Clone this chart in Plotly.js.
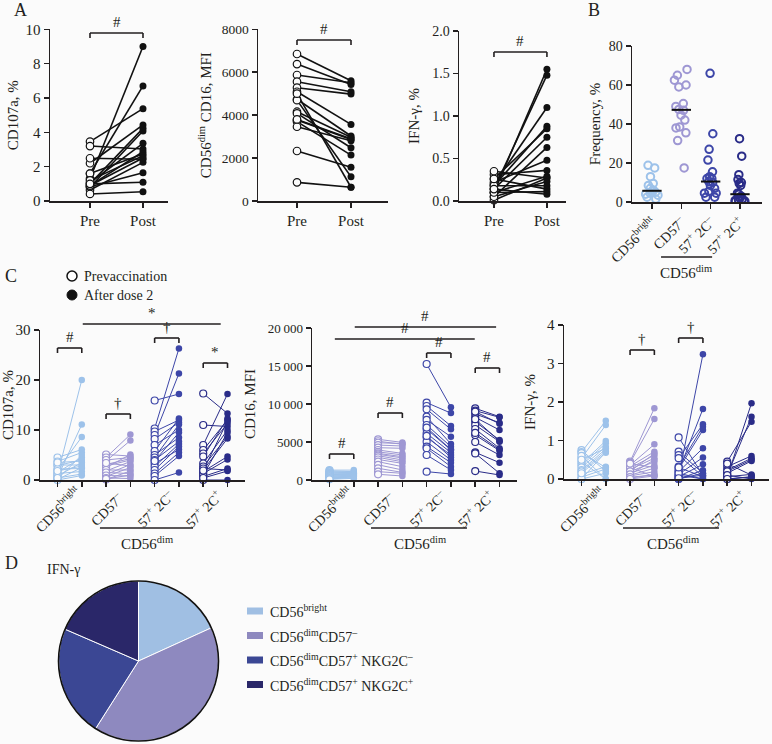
<!DOCTYPE html>
<html><head><meta charset="utf-8">
<script src="https://cdn.plot.ly/plotly-3.0.1.min.js"></script>
<style>html,body{margin:0;padding:0;background:#fbfbfb}</style>
</head><body><div id="chart" style="width:772px;height:744px"></div>
<script>
// ---------------- DATA ----------------
const prePostLabels = ['Pre', 'Post'];
// Panel A (paired, n=17)
const a1Pre  = [1.3, 1.6, 3.46, 2.2, 1.0, 0.8, 3.2, 2.49, 1.07, 0.9, 1.6, 1.2, 0.64, 0.83, 0.9, 0.41, 1.0];
const a1Post = [9.0, 6.7, 5.38, 4.43, 4.23, 4.08, 3.03, 2.43, 3.36, 2.87, 2.74, 2.64, 2.25, 1.65, 2.5, 0.54, 1.09];
const a2Pre  = [6850, 6380, 5870, 5560, 5280, 5090, 4740, 4160, 4080, 3770, 3700, 3460, 2330, 870, 4700, 3800, 5000];
const a2Post = [5600, 5430, 5510, 5090, 4980, 3570, 3030, 2970, 2480, 2870, 2140, 2810, 1570, 640, 1130, 2900, 640];
const a3Pre  = [0.1, 0.14, 0.2, 0.18, 0.26, 0.14, 0.05, 0.22, 0.31, 0.1, 0.01, 0.35, 0.05, 0.18, 0.26, 0.1, 0.14];
const a3Post = [1.55, 1.48, 1.1, 0.88, 0.85, 0.75, 0.63, 0.48, 0.36, 0.29, 0.27, 0.27, 0.23, 0.18, 0.14, 0.11, 0.08];

// Panel B
const subsetLabels = ['CD56<sup>bright</sup>', 'CD57<sup>–</sup>', '57<sup>+</sup> 2C<sup>–</sup>', '57<sup>+</sup> 2C<sup>+</sup>'];
const subsetColors = ['#9dc2ea', '#9e97d3', '#3d46a8', '#2a2c88'];
const freqBright  = [18.8, 17.5, 13, 9.5, 8.5, 7, 6, 5.5, 5, 4.5, 4, 3.5, 2.5, 1.5];
const freqCD57neg = [68, 65, 62.5, 60, 59, 50.5, 49, 47.5, 47, 44.5, 42, 38.5, 38, 35.5, 31.5, 17.5];
const freq2Cneg   = [66, 35, 27, 21.5, 15.5, 13, 12, 12, 10.5, 10, 8.5, 7, 5.5, 4.5, 4.5, 2.5, 2.5];
const freq2Cpos   = [32.5, 23.5, 14, 11.5, 10, 9.5, 8.5, 4.5, 4, 3, 2, 1.5, 1, 0.8, 0.5, 0.3, 0.2];

// Panel C: CD107a %
const cd107aPre = [
  [1.0, 0.5, 2.0, 4.5, 3.7, 0.2, 1.5, 2.9, 0.8, 3.0, 0.1, 2.2, 1.3, 0, 0.4, 3.5, 1.8],
  [5.1, 4.5, 3.8, 3.1, 2.5, 1.8, 1.1, 0.7, 0.1, 4.0, 2.8, 2.0, 1.5, 0.9, 0.4, 3.4, 0.2],
  [15.9, 10.3, 9.7, 9.0, 8.2, 7.0, 5.8, 5.0, 4.5, 4.0, 3.3, 2.7, 2.0, 1.3, 0.8, 0, 3.8],
  [17.3, 11.0, 7.0, 6.0, 5.3, 4.7, 3.3, 2.7, 2.0, 1.7, 1.3, 0.7, 0, 2.3, 1.0, 0.4, 1.9]
];
const cd107aPost = [
  [20, 11.1, 8.6, 6.1, 5.5, 5.0, 4.5, 4.0, 3.5, 3.0, 2.5, 2.3, 1.7, 0.9, 1.2, 3.8, 2.8],
  [4.8, 9.1, 7.9, 4.3, 5.1, 3.7, 3.1, 2.5, 1.8, 4.5, 4.0, 2.0, 1.3, 0.8, 0.3, 2.8, 1.0],
  [17.2, 26.3, 12.0, 21.3, 11.5, 10.0, 12.3, 8.5, 11.1, 7.7, 6.1, 7.2, 6.7, 5.5, 4.8, 1.5, 9.5],
  [13.3, 10.7, 17.2, 12.0, 11.3, 12.3, 10.0, 8.7, 8.3, 4.7, 4.1, 2.3, 0, 2.0, 9.5, 1.8, 11.8]
];
// Panel C: CD16 MFI
const cd16Pre = [
  [1300, 1200, 1100, 960, 900, 800, 700, 660, 600, 500, 450, 350, 300, 250, 200, 150, 90],
  [5350, 5100, 4900, 4600, 4250, 3950, 3700, 3500, 3380, 3200, 2980, 2700, 2410, 2000, 1540, 1100, 750],
  [15260, 10180, 9740, 9300, 8330, 7900, 7240, 6710, 6140, 5610, 5040, 4390, 4170, 3290, 1100, 5800, 6900],
  [9430, 9120, 8680, 8250, 7680, 7240, 6710, 5920, 5000, 3640, 3500, 1180, 9000, 8000, 6200]
];
const cd16Post = [
  [1300, 1100, 1050, 1000, 880, 850, 800, 750, 700, 660, 600, 550, 500, 440, 400, 300, 220],
  [4950, 4700, 4800, 4470, 4170, 3500, 3300, 3070, 2900, 2630, 2400, 2190, 1750, 1320, 1000, 880, 530],
  [9560, 8800, 7110, 6670, 4740, 5700, 4390, 3950, 3600, 3290, 2630, 2280, 1750, 1320, 790, 2980, 4000],
  [8330, 8250, 7540, 6580, 5260, 5040, 4170, 3860, 3290, 2280, 880, 660, 7400, 5100, 4000]
];
// Panel C: IFN-gamma %
const ifngPre = [
  [0.75, 0.7, 0.67, 0.54, 0.45, 0.4, 0.35, 0.3, 0.23, 0.2, 0.12, 0.05, 0, 0, 0.6, 0.5, 0.15],
  [0.45, 0.42, 0.36, 0.33, 0.28, 0.25, 0.19, 0.15, 0.1, 0.08, 0.02, 0.3, 0.2, 0.12, 0.05, 0.4, 0],
  [0.05, 0.2, 1.08, 0.71, 0.62, 0.54, 0.32, 0.26, 0.19, 0.12, 0.06, 0, 0.1, 0.15, 0, 0.3, 0.02],
  [0.05, 0.1, 0.45, 0.32, 0.23, 0.15, 0.06, 0, 0.2, 0.1, 0.4, 0]
];
const ifngPost = [
  [0.2, 1.51, 0.3, 1.4, 0, 0.99, 0.93, 0.84, 0.78, 0.72, 0.32, 0.26, 0.15, 0.7, 0, 0.8, 0.68],
  [1.84, 1.56, 0.9, 0.71, 0.62, 0.54, 0.45, 0.36, 0.28, 0.19, 0.12, 0.06, 0.66, 0.5, 0.1, 0.3, 0.08],
  [3.24, 1.82, 0.1, 0.15, 0.06, 1.42, 1.36, 1.27, 0.8, 0.56, 0.38, 0.23, 0, 0, 0.15, 0.06, 0.1],
  [1.97, 1.62, 1.49, 0.6, 0.54, 0.47, 0.12, 0.06, 0.5, 0, 0.1, 0.05]
];
const c2TickVals = [0, 5000, 10000, 15000, 20000];
const c2TickText = ['0', '5000', '10\u2009000', '15\u2009000', '20\u2009000'];

// Panel D
const pieLabels = ['CD56<sup>bright</sup>', 'CD56<sup>dim</sup>CD57<sup>–</sup>', 'CD56<sup>dim</sup>CD57<sup>+</sup> NKG2C<sup>–</sup>', 'CD56<sup>dim</sup>CD57<sup>+</sup> NKG2C<sup>+</sup>'];
const pieValues = [18.2, 40.8, 22.5, 18.5];
const pieColors = ['#a0bfe3', '#8e89bf', '#3b4794', '#2a2769'];

// ---------------- LAYOUT HELPERS ----------------
const W = 772, H = 744;
const FONT = '"Liberation Serif", "Times New Roman", serif';
const INK = '#231f20';
const BG = '#fbfbfb';
const px = x => x / W;
const py = y => 1 - y / H;
const domX = (a, b) => [a / W, b / W];
const domY = (top, bottom) => [1 - bottom / H, 1 - top / H];

const traces = [];
const shapes = [];
const annotations = [];
const layout = {
  width: W, height: H, margin: {l: 0, r: 0, t: 0, b: 0},
  paper_bgcolor: BG, plot_bgcolor: 'rgba(0,0,0,0)',
  showlegend: false, hovermode: false, boxmode: 'overlay',
  font: {family: FONT, color: INK, size: 14}
};

function axPair(n, xDom, yDom, xRange, yRange, xOpts, yOpts) {
  const xs = n === 1 ? '' : String(n);
  const common = {showline: true, linecolor: INK, linewidth: 1.5, ticks: 'outside', ticklen: 5,
    tickwidth: 1.5, tickcolor: INK, showgrid: false, zeroline: false, fixedrange: true,
    tickfont: {family: FONT, size: 14, color: INK}};
  layout['xaxis' + xs] = Object.assign({}, common, {domain: domX(xDom[0], xDom[1]), range: xRange, anchor: 'y' + xs}, xOpts || {});
  layout['yaxis' + xs] = Object.assign({}, common, {domain: domY(yDom[0], yDom[1]), range: yRange, anchor: 'x' + xs}, yOpts || {});
}
function ytitle(t, standoff) { return {text: t, font: {family: FONT, size: 15, color: INK}, standoff: standoff === undefined ? 6 : standoff}; }

// paired lines + markers
function paired(n, xPre, xPost, pre, post, color, lw, msize, mline) {
  const xs = n === 1 ? '' : String(n);
  const lx = [], ly = [];
  pre.forEach((v, i) => { lx.push(xPre, xPost, null); ly.push(v, post[i], null); });
  traces.push({type: 'scatter', mode: 'lines', x: lx, y: ly, xaxis: 'x' + xs, yaxis: 'y' + xs,
    line: {color: color, width: lw}, cliponaxis: false});
  traces.push({type: 'scatter', mode: 'markers', x: pre.map(() => xPre), y: pre, xaxis: 'x' + xs, yaxis: 'y' + xs,
    marker: {symbol: 'circle', size: msize, color: BG, line: {color: color, width: mline}}, cliponaxis: false});
  traces.push({type: 'scatter', mode: 'markers', x: post.map(() => xPost), y: post, xaxis: 'x' + xs, yaxis: 'y' + xs,
    marker: {symbol: 'circle', size: msize - 0.5, color: color, line: {width: 0}}, cliponaxis: false});
}

function bracket(xref, x0, x1, yPx, label, legs, fsize) {
  const ln = {color: INK, width: 1.6};
  shapes.push({type: 'line', xref: xref, yref: 'paper', x0: x0, x1: x1, y0: py(yPx), y1: py(yPx), line: ln});
  if (legs) {
    shapes.push({type: 'line', xref: xref, yref: 'paper', x0: x0, x1: x0, y0: py(yPx), y1: py(yPx + 5), line: ln});
    shapes.push({type: 'line', xref: xref, yref: 'paper', x0: x1, x1: x1, y0: py(yPx), y1: py(yPx + 5), line: ln});
  }
  annotations.push({text: label, xref: xref, yref: 'paper', x: (x0 + x1) / 2, y: py(yPx - 1),
    xanchor: 'center', yanchor: 'bottom', showarrow: false,
    font: {family: FONT, size: fsize || 15, color: INK}});
}
function txt(text, xPx, yPx, size, opts) {
  annotations.push(Object.assign({text: text, xref: 'paper', yref: 'paper', x: px(xPx), y: py(yPx),
    xanchor: 'left', yanchor: 'middle', showarrow: false,
    font: {family: FONT, size: size || 15, color: INK}}, opts || {}));
}

// ---------------- PANEL A ----------------
const aX = {tickvals: [0, 1], ticktext: prePostLabels, tickfont: {family: FONT, size: 15, color: INK}};
axPair(1, [50, 168], [29.3, 201], [-0.755, 1.472], [0, 10], aX, {dtick: 2, tickfont: {family: FONT, size: 15, color: INK}, title: ytitle('CD107a, %', 3)});
axPair(2, [258, 388], [29.3, 201], [-0.722, 1.685], [0, 8000], aX, {dtick: 2000, tickfont: {family: FONT, size: 13.5, color: INK}, title: ytitle('CD56<sup>dim</sup> CD16, MFI')});
axPair(3, [459, 566], [31, 201], [-0.66, 1.36], [0, 2], aX, {dtick: 0.5, tickformat: '.1f', title: ytitle('IFN-γ, %', 9)});
paired(1, 0, 1, a1Pre, a1Post, '#111', 1.6, 7.5, 1.2);
paired(2, 0, 1, a2Pre, a2Post, '#111', 1.6, 7.5, 1.2);
paired(3, 0, 1, a3Pre, a3Post, '#111', 1.6, 7.5, 1.2);
bracket('x', 0, 1, 33, '#', true);
bracket('x2', 0, 1, 40, '#', true);
bracket('x3', 0, 1, 52, '#', true);

// ---------------- PANEL B ----------------
axPair(4, [632, 762], [46, 202], [-0.68, 3.75], [0, 80],
  {tickvals: [0, 1, 2, 3], ticktext: subsetLabels, tickangle: -45, tickfont: {family: FONT, size: 14, color: INK}},
  {dtick: 20, title: ytitle('Frequency, %', 4)});
const freqSets = [freqBright, freqCD57neg, freq2Cneg, freq2Cpos];
freqSets.forEach((vals, i) => {
  traces.push({type: 'box', x0: i, y: vals, xaxis: 'x4', yaxis: 'y4', boxpoints: 'all', jitter: 0.85, pointpos: 0,
    width: 0.62, fillcolor: 'rgba(0,0,0,0)', line: {color: 'rgba(0,0,0,0)', width: 0},
    marker: {symbol: 'circle-open', size: 7.5, color: subsetColors[i], line: {width: 2}}});
  const s = vals.slice().sort((a, b) => a - b);
  const m = s.length % 2 ? s[(s.length - 1) / 2] : (s[s.length / 2 - 1] + s[s.length / 2]) / 2;
  traces.push({type: 'scatter', mode: 'lines', x: [i - 0.33, i + 0.33], y: [m, m], xaxis: 'x4', yaxis: 'y4',
    line: {color: '#111', width: 2}});
});
shapes.push({type: 'line', xref: 'x4', yref: 'paper', x0: 0.31, x1: 2.05, y0: py(257), y1: py(257), line: {color: INK, width: 1.5}});
annotations.push({text: 'CD56<sup>dim</sup>', xref: 'x4', yref: 'paper', x: 1.16, y: py(272), showarrow: false,
  xanchor: 'center', yanchor: 'middle', font: {family: FONT, size: 15, color: INK}});

// ---------------- PANEL C ----------------
const cTicks = {tickvals: [0, 0.5, 1, 1.5, 2, 2.5, 3, 3.5], showticklabels: false};
axPair(5, [40, 245], [330, 480], [-0.36, 3.86], [0, 30], cTicks, {dtick: 10, tickfont: {family: FONT, size: 15, color: INK}, title: ytitle('CD107a, %', 3)});
axPair(6, [312, 517], [328, 480], [-0.36, 3.86], [0, 20000], cTicks, {tickvals: c2TickVals, ticktext: c2TickText, tickfont: {family: FONT, size: 13, color: INK}, title: ytitle('CD16, MFI', 8)});
axPair(7, [564, 769], [325, 479], [-0.36, 3.86], [0, 4], cTicks, {dtick: 1, tickfont: {family: FONT, size: 15, color: INK}, title: ytitle('IFN-γ, %', 8)});
[[5, cd107aPre, cd107aPost], [6, cd16Pre, cd16Post], [7, ifngPre, ifngPost]].forEach(([n, pre, post]) => {
  pre.forEach((g, i) => paired(n, i, i + 0.5, g, post[i], subsetColors[i], 1, 7, 1.2));
  subsetLabels.forEach((lab, i) => {
    annotations.push({text: lab, xref: 'x' + n, yref: 'paper', x: i, y: py(509), textangle: -45, showarrow: false,
      xanchor: 'center', yanchor: 'middle', font: {family: FONT, size: 14, color: INK}});
  });
});
[['x5', 0.874, 2.79, 1.84], ['x6', 0.854, 2.83, 1.86], ['x7', 0.854, 2.83, 1.88]].forEach(([xr, a, b, c]) => {
  shapes.push({type: 'line', xref: xr, yref: 'paper', x0: a, x1: b, y0: py(528), y1: py(528), line: {color: INK, width: 1.5}});
  annotations.push({text: 'CD56<sup>dim</sup>', xref: xr, yref: 'paper', x: c, y: py(543), showarrow: false,
    xanchor: 'center', yanchor: 'middle', font: {family: FONT, size: 15, color: INK}});
});
bracket('x5', 0, 0.5, 348, '#', true);
bracket('x5', 1, 1.5, 414, '†', true);
bracket('x5', 2, 2.5, 338, '†', true);
bracket('x5', 3, 3.5, 363, '*', true);
bracket('x5', 0.52, 3.36, 324, '*', false);
bracket('x6', 0.52, 3.43, 327, '#', false);
bracket('x6', 0.11, 2.99, 339, '#', false);
bracket('x6', 2, 2.5, 353, '#', true);
bracket('x6', 3, 3.5, 368, '#', true);
bracket('x6', 1, 1.5, 413, '#', true);
bracket('x6', 0, 0.5, 454, '#', true);
bracket('x7', 1, 1.5, 350, '†', true);
bracket('x7', 2, 2.5, 338, '†', true);

// C legend
shapes.push({type: 'circle', xref: 'paper', yref: 'paper', x0: px(67), x1: px(77), y0: py(281), y1: py(271), fillcolor: '#fff', line: {color: '#111', width: 1.5}});
shapes.push({type: 'circle', xref: 'paper', yref: 'paper', x0: px(67), x1: px(77), y0: py(300), y1: py(290), fillcolor: '#111', line: {color: '#111', width: 1}});
txt('Prevaccination', 82, 276, 14);
txt('After dose 2', 82, 295, 14);

// ---------------- PANEL D ----------------
traces.push({type: 'pie', values: pieValues, labels: pieLabels, sort: false, direction: 'clockwise', rotation: 0,
  textinfo: 'none', marker: {colors: pieColors, line: {color: '#ffffff', width: 1}},
  domain: {x: domX(58.5, 218.5), y: domY(581, 741)}});
shapes.push({type: 'circle', xref: 'paper', yref: 'paper', x0: px(58.5), x1: px(218.5), y0: py(741), y1: py(581), line: {color: '#111', width: 1.6}});
txt('IFN-γ', 45, 569, 14);
pieLabels.forEach((lab, i) => {
  const yc = 611 + i * 24.5;
  shapes.push({type: 'rect', xref: 'paper', yref: 'paper', x0: px(247), x1: px(263), y0: py(yc + 3.5), y1: py(yc - 3.5), fillcolor: pieColors[i], line: {width: 0}});
  txt(lab, 268, yc, 14);
});

// panel letters
txt('A', 12, 10, 18);
txt('B', 586, 10, 18);
txt('C', 3, 276, 18);
txt('D', 3, 563, 18);

layout.shapes = shapes;
layout.annotations = annotations;
Plotly.newPlot('chart', traces, layout, {displayModeBar: false, staticPlot: true});
</script>
</body></html>
